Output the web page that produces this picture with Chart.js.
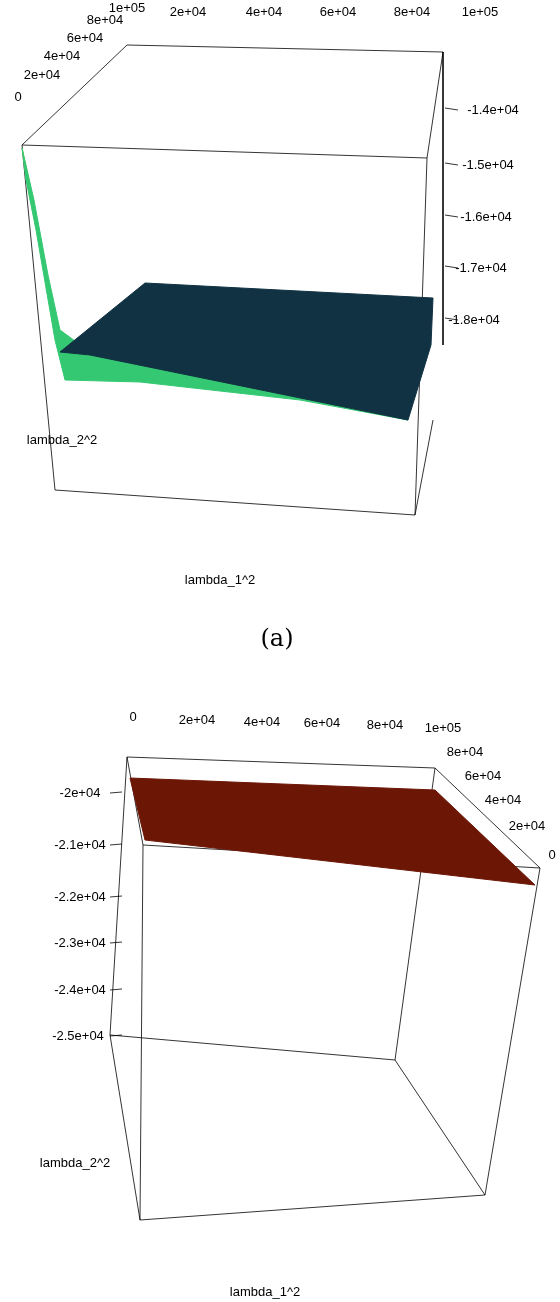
<!DOCTYPE html>
<html>
<head>
<meta charset="utf-8">
<script src="https://cdn.jsdelivr.net/npm/chart.js@4"></script>
<style>
  html, body { margin: 0; padding: 0; background: #fff; }
  canvas { display: block; }
</style>
</head>
<body>
<canvas id="c" width="560" height="1302"></canvas>
<script>
// scene coordinates of the two projected 3D panels (x: 0..560, y: 0..1302 downwards)
const boxA = [
  [[127,45],[443,52],[427,158],[22,145],[127,45]],
  [[22,145],[55,490],[415,515],[427,158]],
  [[443,52],[443,345]],
  [[415,515],[433,420]]
]
const surfaceDarkA = [[145,283],[433,298],[431,345],[408,420],[90,355],[60,352]]
const surfaceGreenA = [[22,148],[34,200],[48,275],[60,330],[90,352],[408,420],[300,400],[140,382],[65,380],[55,340],[36,230],[26,180]]
const surfaceYellowA = [[22,148],[28,175],[34,205],[27,180]]
const topTicksA = ["1e+05", "2e+04", "4e+04", "6e+04", "8e+04", "1e+05"]
const topTickPosA = [[127,8],[188,12],[264,12],[338,12],[412,12],[480,12]]
const leftTicksA = ["0", "2e+04", "4e+04", "6e+04", "8e+04"]
const leftTickPosA = [[18,97],[42,75],[62,56],[85,38],[105,20]]
const zTicksA = ["-1.4e+04", "-1.5e+04", "-1.6e+04", "-1.7e+04", "-1.8e+04"]
const zTickPosA = [[493,110],[488,165],[486,217],[481,268],[474,320]]

const boxB = [
  [[127,757],[435,768],[540,868],[143,845],[127,757]],
  [[127,757],[110,1035],[395,1060],[485,1195],[140,1220],[110,1035]],
  [[143,845],[140,1220]],
  [[540,868],[485,1195]],
  [[435,768],[395,1060]]
]
const surfaceRedB = [[130,778],[435,790],[535,885],[145,840]]
const topTicksB = ["0", "2e+04", "4e+04", "6e+04", "8e+04", "1e+05"]
const topTickPosB = [[133,717],[197,720],[262,722],[322,723],[385,725],[443,728]]
const rightTicksB = ["8e+04", "6e+04", "4e+04", "2e+04", "0"]
const rightTickPosB = [[465,752],[483,776],[503,800],[527,826],[552,855]]
const zTicksB = ["-2e+04", "-2.1e+04", "-2.2e+04", "-2.3e+04", "-2.4e+04", "-2.5e+04"]
const zTickPosB = [[80,793],[80,845],[80,897],[80,943],[80,990],[78,1036]]

const axisTitles = [["lambda_2^2",[62,440]],["lambda_1^2",[220,580]],["lambda_2^2",[75,1163]],["lambda_1^2",[265,1292]]]

const pts = arr => arr.map(p => ({ x: p[0], y: p[1] }))
const closed = arr => pts(arr.concat([arr[0]]))

const poly = (data, color) => ({
  data: closed(data), showLine: true, fill: "shape", backgroundColor: color,
  borderColor: color, borderWidth: 1, pointRadius: 0, tension: 0
})

const lines = data => ({
  data: pts(data), showLine: true, fill: false, borderColor: "#000",
  borderWidth: 0.8, pointRadius: 0
})

const labelsPlugin = {
  id: "labels",
  afterDatasetsDraw(chart) {
    const { ctx, scales: { x, y } } = chart
    const put = (t, p, size = 13, font = "Liberation Sans") => {
      ctx.font = `${size}px "${font}"`
      ctx.fillStyle = "#000"
      ctx.textAlign = "center"
      ctx.textBaseline = "middle"
      ctx.fillText(t, x.getPixelForValue(p[0]), y.getPixelForValue(p[1]))
    }
    const tick = (a, b) => {
      ctx.beginPath(); ctx.strokeStyle = "#000"; ctx.lineWidth = 0.8
      ctx.moveTo(x.getPixelForValue(a[0]), y.getPixelForValue(a[1]))
      ctx.lineTo(x.getPixelForValue(b[0]), y.getPixelForValue(b[1])); ctx.stroke()
    }
    topTicksA.forEach((t, i) => put(t, topTickPosA[i]))
    leftTicksA.forEach((t, i) => put(t, leftTickPosA[i]))
    zTicksA.forEach((t, i) => { put(t, zTickPosA[i]); tick([445, zTickPosA[i][1] - 2], [458, zTickPosA[i][1]]) })
    topTicksB.forEach((t, i) => put(t, topTickPosB[i]))
    rightTicksB.forEach((t, i) => put(t, rightTickPosB[i]))
    zTicksB.forEach((t, i) => { put(t, zTickPosB[i]); tick([110, zTickPosB[i][1]], [122, zTickPosB[i][1] - 1]) })
    axisTitles.forEach(([t, p]) => put(t, p))
    put("(a)", [277, 640], 24, "DejaVu Serif")
  }
}

new Chart(document.getElementById("c"), {
  type: "scatter",
  data: {
    datasets: [
      poly(surfaceDarkA, "#103242"),
      poly(surfaceGreenA, "#35c872"),
      poly(surfaceYellowA, "#c9c845"),
      poly(surfaceRedB, "#6c1606"),
      ...boxA.map(lines),
      ...boxB.map(lines)
    ]
  },
  options: {
    responsive: false,
    animation: false,
    layout: { padding: 0 },
    plugins: { legend: { display: false }, tooltip: { enabled: false } },
    scales: {
      x: { type: "linear", min: 0, max: 560, display: false },
      y: { type: "linear", min: 0, max: 1302, reverse: true, display: false }
    }
  },
  plugins: [labelsPlugin]
})
</script>
</body>
</html>
